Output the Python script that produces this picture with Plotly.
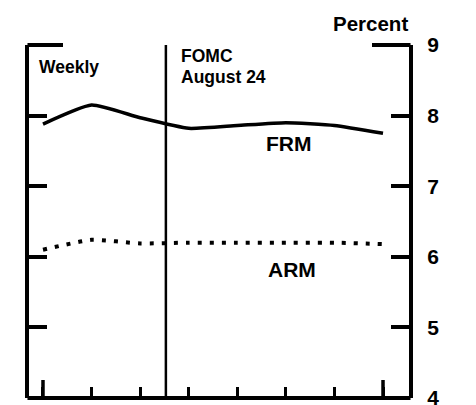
import plotly.graph_objects as go

# ---- data ----
weeks = [0, 1, 2, 3, 4, 5, 6, 7]
frm = [7.88, 8.15, 7.97, 7.82, 7.86, 7.90, 7.86, 7.75]
arm = [6.10, 6.24, 6.19, 6.20, 6.20, 6.20, 6.20, 6.18]
fomc_x = 2.53
y_ticks = [4, 5, 6, 7, 8, 9]
y_tick_text = ["4", "5", "6", "7", "8", "9"]

FONT = "Liberation Sans, Arial, Helvetica, sans-serif"
OFF = 8  # page body margin
W, H = 476 - OFF, 405 - OFF
L, T = 29 - OFF, 45 - OFF
R = W - L - 380
B = H - T - 353
pw = W - L - R
ph = H - T - B


def py(ypix):
    """page pixel y -> paper fraction"""
    return (T + ph - (ypix - OFF)) / ph


def px(xpix):
    return ((xpix - OFF) - L) / pw


fig = go.Figure()
fig.add_trace(go.Scatter(x=weeks, y=frm, mode="lines",
                         line=dict(color="black", width=3.5, shape="spline", smoothing=0.5),
                         hoverinfo="skip", showlegend=False))
fig.add_trace(go.Scatter(x=weeks, y=arm, mode="lines",
                         line=dict(color="black", width=4, dash="4px,8px", shape="spline", smoothing=0.5),
                         hoverinfo="skip", showlegend=False))

shapes = []
# FOMC vertical line
shapes.append(dict(type="line", xref="x", yref="paper", x0=fomc_x, x1=fomc_x, y0=0, y1=1,
                   line=dict(color="black", width=2.5)))
# top stubs of frame
shapes.append(dict(type="line", xref="paper", yref="paper", x0=-0.004, x1=px(63), y0=1, y1=1,
                   line=dict(color="black", width=4)))
shapes.append(dict(type="line", xref="paper", yref="paper", x0=px(372), x1=1.004, y0=1, y1=1,
                   line=dict(color="black", width=4)))
# bottom frame line
shapes.append(dict(type="line", xref="paper", yref="paper", x0=-0.004, x1=1.004, y0=0, y1=0,
                   line=dict(color="black", width=4)))
# taller end ticks on bottom axis
for xv in (weeks[0], weeks[-1]):
    shapes.append(dict(type="line", xref="x", yref="paper", x0=xv, x1=xv, y0=0, y1=18 / ph,
                       line=dict(color="black", width=3.5)))


def ann(text, x, y, size, xanchor="left", xref="paper", yref="paper"):
    return dict(text=text, xref=xref, yref=yref, x=x, y=y, xanchor=xanchor, yanchor="middle",
                showarrow=False, font=dict(size=size, color="black", family=FONT, weight="bold"))


annotations = [
    ann("Percent", px(410), py(23), 20.5, xanchor="right"),
    ann("Weekly", px(37), py(67), 17.5),
    ann("FOMC", px(179), py(56), 17.5),
    ann("August 24", px(179), py(77), 17.5),
    ann("FRM", 5.06, 7.6, 21, xanchor="center", xref="x", yref="y"),
    ann("ARM", 5.12, 5.82, 21, xanchor="center", xref="x", yref="y"),
]

fig.update_layout(
    width=W, height=H,
    margin=dict(l=L, r=R, t=T, b=B, pad=0, autoexpand=False),
    paper_bgcolor="white", plot_bgcolor="white",
    shapes=shapes, annotations=annotations,
    xaxis=dict(range=[-0.288, 7.535], tickvals=weeks, ticks="inside", ticklen=11, tickwidth=2.5,
               tickcolor="black", showticklabels=False, showgrid=False, zeroline=False,
               showline=False, automargin=False, fixedrange=True),
    yaxis=dict(range=[4, 9], side="right", tickvals=y_ticks, ticktext=y_tick_text,
               ticks="inside", ticklen=18, tickwidth=4, tickcolor="black",
               showline=True, linecolor="black", linewidth=4, mirror="ticks",
               showgrid=False, zeroline=False, ticklabelstandoff=10, ticklabeloverflow="allow",
               automargin=False,
               tickfont=dict(size=21, color="black", family=FONT, weight="bold"), fixedrange=True),
)

fig.write_html("out.html")
